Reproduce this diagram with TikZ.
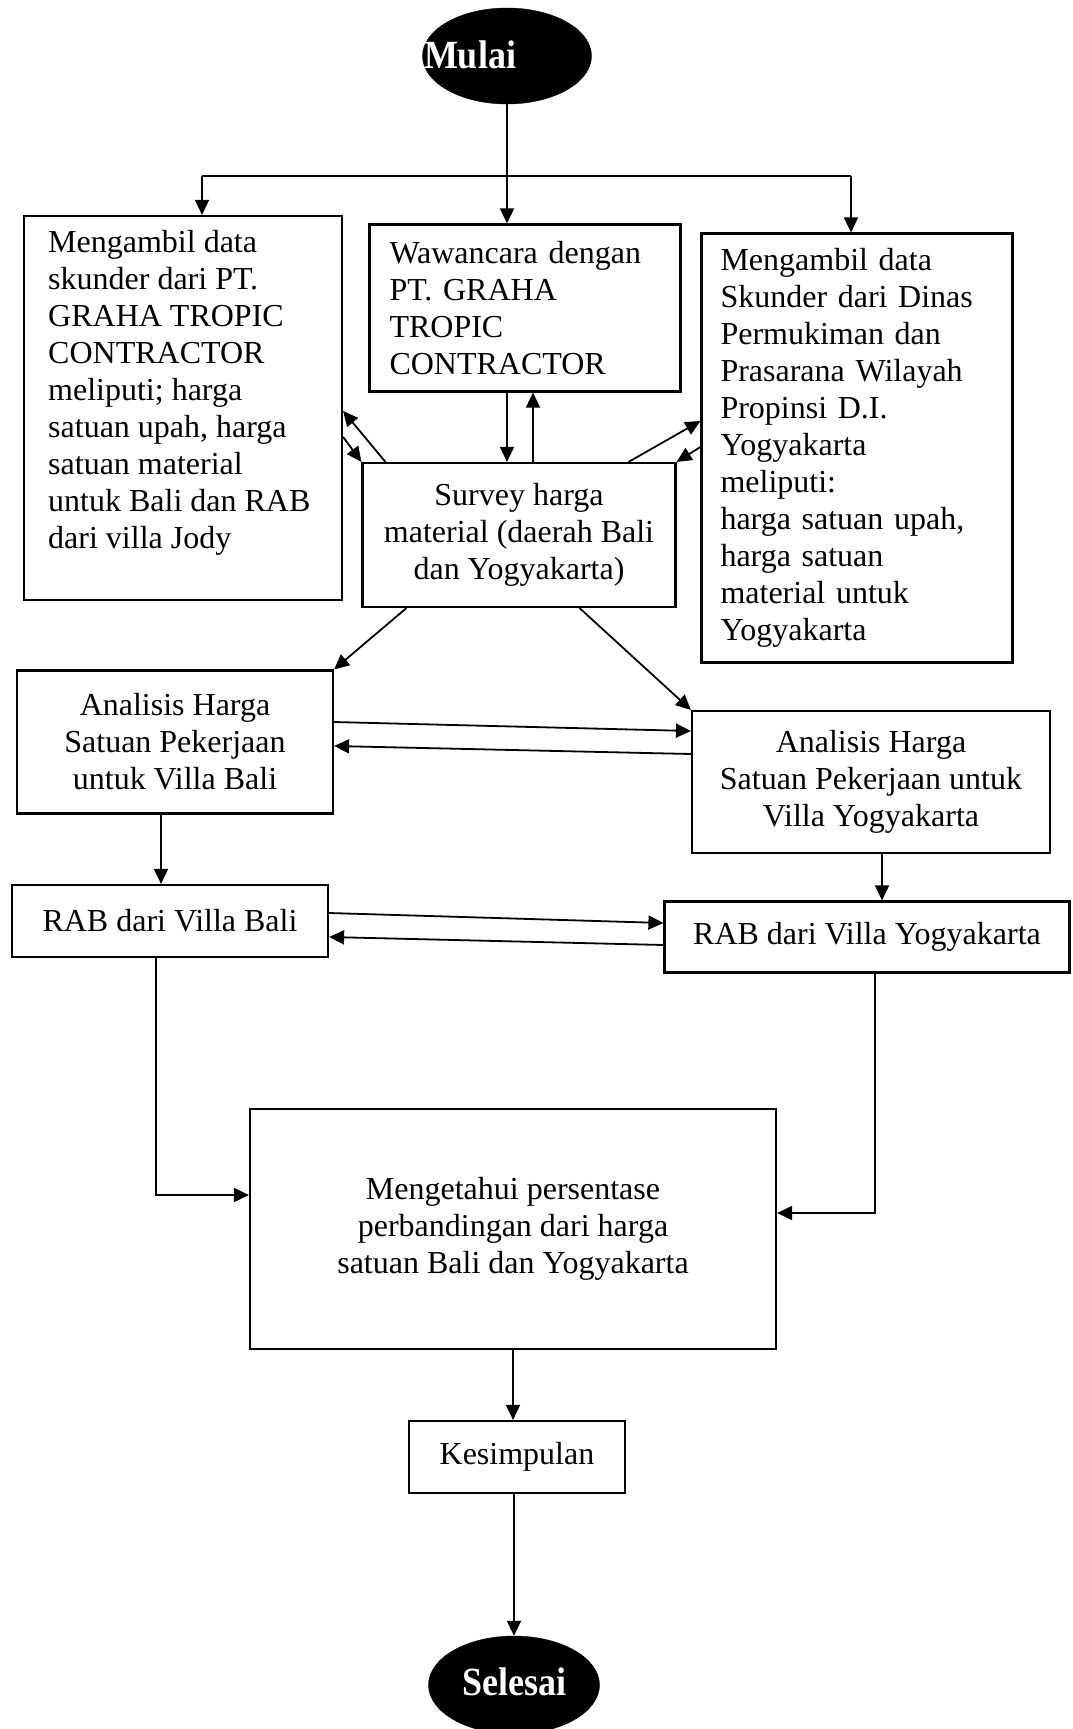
\documentclass[tikz,border=0pt]{standalone}
\usepackage{fontspec}
\setmainfont{Liberation Serif}
\newfontfamily\termfont[FakeStretch=0.9]{Liberation Serif}
\usetikzlibrary{arrows.meta,shapes.geometric}
\begin{document}
\begin{tikzpicture}[x=1pt,y=-1pt,
  box/.style={draw,line width=2.2pt,inner sep=0pt},
  txt/.style={font=\fontsize{32}{37}\selectfont},
  arr/.style={line width=1.8pt,-{Triangle[length=15pt,width=14pt]}},
  ln/.style={line width=1.8pt},
  term/.style={ellipse,fill=black,draw=black,inner sep=0pt},
  termtxt/.style={text=white,font=\termfont\bfseries\fontsize{40}{44}\selectfont,inner sep=0pt}]
\fill[white] (0,0) rectangle (1072,1729);
\useasboundingbox (0,0) rectangle (1072,1729);

% terminals
\node[term,minimum width=169pt,minimum height=96pt] (mulai) at (507,56) {};
\node[termtxt,anchor=base] (mulaitxt) at (470,68) {Mulai};
\node[term,minimum width=171pt,minimum height=98pt] (selesai) at (514,1685) {};
\node[termtxt,anchor=base] (selesaitxt) at (514,1695) {Selesai};

% boxes
\node[box,minimum width=318pt,minimum height=384pt] (b1) at (183,408) {};
\node[txt,anchor=north west,align=left,inner sep=0pt] (b1txt) at (48,230)
  {Mengambil data\\skunder dari PT.\\GRAHA TROPIC\\CONTRACTOR\\meliputi; harga\\satuan upah, harga\\satuan material\\untuk Bali dan RAB\\dari villa Jody};
\node[box,txt,minimum width=311pt,minimum height=167pt,text width=271pt,align=left,inner xsep=20pt] (b2) at (525,308)
  {Wawancara dengan\\PT. GRAHA\\TROPIC\\CONTRACTOR};
\node[box,txt,minimum width=311pt,minimum height=429pt,text width=273pt,align=left,inner xsep=19pt] (b3) at (857,448)
  {Mengambil data\\Skunder dari Dinas\\Permukiman dan\\Prasarana Wilayah\\Propinsi D.I.\\Yogyakarta\\meliputi:\\harga satuan upah,\\harga satuan\\material untuk\\Yogyakarta};
\node[box,txt,minimum width=313pt,minimum height=144pt,align=center] (b4) at (519,535)
  {Survey harga\\material (daerah Bali\\dan Yogyakarta)};
\node[box,txt,minimum width=316pt,minimum height=143pt,align=center] (b5) at (175,742)
  {Analisis Harga\\Satuan Pekerjaan\\untuk Villa Bali};
\node[box,txt,minimum width=358pt,minimum height=142pt,align=center] (b6) at (871,782)
  {Analisis Harga\\Satuan Pekerjaan untuk\\Villa Yogyakarta};
\node[box,txt,minimum width=316pt,minimum height=72pt] (b7) at (170,921) {RAB dari Villa Bali};
\node[box,txt,minimum width=405pt,minimum height=71pt] (b8) at (867,937) {RAB dari Villa Yogyakarta};
\node[box,txt,minimum width=526pt,minimum height=240pt,align=center] (b9) at (513,1229)
  {Mengetahui persentase\\perbandingan dari harga\\satuan Bali dan Yogyakarta};
\node[box,txt,minimum width=216pt,minimum height=72pt] (b10) at (517,1457) {Kesimpulan};

% split from Mulai
\coordinate (sl) at (202,176);
\coordinate (sr) at (851,176);
\draw[ln] (sl) -- (sr);
\draw[arr] (mulai.south) -- (mulai.south |- b2.north);
\draw[arr] (sl) -- (sl |- b1.north);
\draw[arr] (sr) -- (sr |- b3.north);

% Wawancara <-> Survey
\draw[arr] ([xshift=-18pt]b2.south) -- ([xshift=-18pt]b2.south |- b4.north);
\draw[arr] ([xshift=8pt]b2.south |- b4.north) -- ([xshift=8pt]b2.south);

% Survey <-> left box
\draw[arr] ([xshift=24pt]b4.north west) -- ([yshift=-3pt]b1.east);
\draw[arr] ([yshift=-29pt]b1.east) -- (b4.north west);

% Survey <-> right box
\draw[arr] ([xshift=-48pt]b4.north east) -- ([yshift=27pt]b3.west);
\draw[arr] ([yshift=1pt]b3.west) -- (b4.north east);

% Survey -> Analisis
\draw[arr] ([xshift=45pt]b4.south west) -- (b5.north east);
\draw[arr] ([xshift=-97pt]b4.south east) -- (b6.north west);

% Analisis <-> Analisis
\draw[arr] ([yshift=20pt]b5.east) -- ([yshift=51pt]b6.west);
\draw[arr] ([yshift=28pt]b6.west) -- ([yshift=-4pt]b5.east);

% Analisis -> RAB
\draw[arr] ([xshift=-14pt]b5.south) -- ([xshift=-14pt]b5.south |- b7.north);
\draw[arr] ([xshift=11pt]b6.south) -- ([xshift=11pt]b6.south |- b8.north);

% RAB <-> RAB
\draw[arr] ([yshift=8pt]b7.east) -- ([yshift=14pt]b8.west);
\draw[arr] ([yshift=-8pt]b8.west) -- ([yshift=-16pt]b7.east);

% RAB -> Mengetahui
\draw[arr] ([xshift=-14pt]b7.south) |- ([yshift=34pt]b9.west);
\draw[arr] ([xshift=8pt]b8.south) |- ([yshift=16pt]b9.east);

% Mengetahui -> Kesimpulan -> Selesai
\draw[arr] (b9.south) -- (b9.south |- b10.north);
\draw[arr] ([xshift=-3pt]b10.south) -- ([xshift=-3pt]b10.south |- selesai.north);
\end{tikzpicture}
\end{document}
